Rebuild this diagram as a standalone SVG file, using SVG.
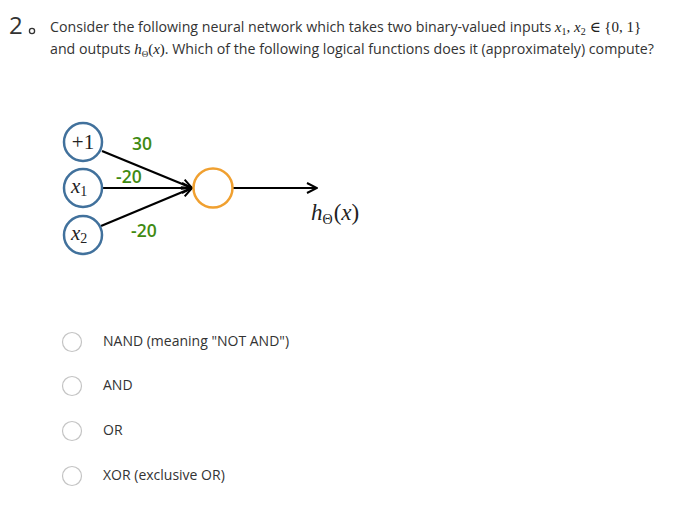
<svg xmlns="http://www.w3.org/2000/svg" width="691" height="506" viewBox="0 0 691 506">
<style>
.t{font-family:"Open Sans","Noto Sans",sans-serif;font-size:14.2px;fill:#333}
.o{font-family:"Open Sans","Noto Sans",sans-serif;font-size:14px;fill:#333}
.m{font-family:"Liberation Serif","DejaVu Serif",serif;fill:#222}
.i{font-style:italic}
.n{font-style:normal}
.w{font-family:"Open Sans","Noto Sans",sans-serif;font-size:17.5px;fill:#3f8a12;font-weight:600}
.in{fill:#fff;stroke:#41719c;stroke-width:2.5}
.edge{stroke:#000;stroke-width:2.2;fill:none}
.radio{fill:#fff;stroke:#c4c4c4;stroke-width:1.2}
</style>
<defs>
<marker id="ah" viewBox="0 0 12 12" refX="11" refY="6" markerWidth="12" markerHeight="12" markerUnits="userSpaceOnUse" orient="auto">
<path d="M1,1 L11,6 L1,11" fill="none" stroke="#000" stroke-width="2"/>
</marker>
</defs>
<rect width="691" height="506" fill="#fff"/>
<g id="question">
<text x="9" y="34" font-family="Open Sans, sans-serif" font-size="24" fill="#333">2</text>
<circle cx="32" cy="31" r="2.6" fill="none" stroke="#333" stroke-width="1.3"/>
<text class="t" x="50" y="32">Consider the following neural network which takes two binary-valued inputs <tspan class="m i" font-size="15">x</tspan><tspan class="m n" font-size="10" dy="3">1</tspan><tspan class="m n" font-size="15" dy="-3">, </tspan><tspan class="m i" font-size="15">x</tspan><tspan class="m n" font-size="10" dy="3">2</tspan><tspan class="m n" font-size="15" dy="-3"> ∈ {0, 1}</tspan></text>
<text class="t" x="50" y="54">and outputs <tspan class="m i" font-size="15">h</tspan><tspan class="m n" font-size="9" dy="3">Θ</tspan><tspan class="m n" font-size="15" dy="-3">(</tspan><tspan class="m i" font-size="15">x</tspan><tspan class="m n" font-size="15">)</tspan>. Which of the following logical functions does it (approximately) compute?</text>
</g>
<g id="connectors">
<line class="edge" x1="102" y1="151" x2="192" y2="188" marker-end="url(#ah)"/>
<line class="edge" x1="102" y1="188" x2="192" y2="188" marker-end="url(#ah)"/>
<line class="edge" x1="101" y1="226" x2="192" y2="188" marker-end="url(#ah)"/>
<line class="edge" x1="233" y1="188" x2="317" y2="188" marker-end="url(#ah)"/>
</g>
<g id="bias">
<circle class="in" cx="83" cy="142" r="19"/>
<text class="m n" x="83" y="149" font-size="21" text-anchor="middle">+1</text>
</g>
<g id="x1">
<circle class="in" cx="83" cy="188" r="19"/>
<text class="m" x="71" y="193" font-size="21"><tspan class="i">x</tspan><tspan class="n" font-size="14" dy="3">1</tspan></text>
</g>
<g id="x2">
<circle class="in" cx="83" cy="235" r="19"/>
<text class="m" x="71" y="240" font-size="21"><tspan class="i">x</tspan><tspan class="n" font-size="14" dy="3">2</tspan></text>
</g>
<g id="output">
<circle cx="213" cy="188" r="19.5" fill="#fff" stroke="#f0a030" stroke-width="2.5"/>
</g>
<g id="output-label">
<text class="m" x="311" y="220" font-size="23"><tspan class="i">h</tspan><tspan class="n" font-size="14" dy="4">Θ</tspan><tspan class="n" dy="-4" dx="1">(</tspan><tspan class="i">x</tspan><tspan class="n">)</tspan></text>
</g>
<g id="weights">
<text class="w" x="132" y="150">30</text>
<text class="w" x="116" y="183">-20</text>
<text class="w" x="131" y="237">-20</text>
</g>
<g id="options">
<circle class="radio" cx="72" cy="342" r="9.5"/>
<text class="o" x="103" y="346">NAND (meaning "NOT AND")</text>
<circle class="radio" cx="72" cy="386" r="9.5"/>
<text class="o" x="103" y="390">AND</text>
<circle class="radio" cx="72" cy="431" r="9.5"/>
<text class="o" x="103" y="435">OR</text>
<circle class="radio" cx="72" cy="476" r="9.5"/>
<text class="o" x="103" y="480">XOR (exclusive OR)</text>
</g>
</svg>
